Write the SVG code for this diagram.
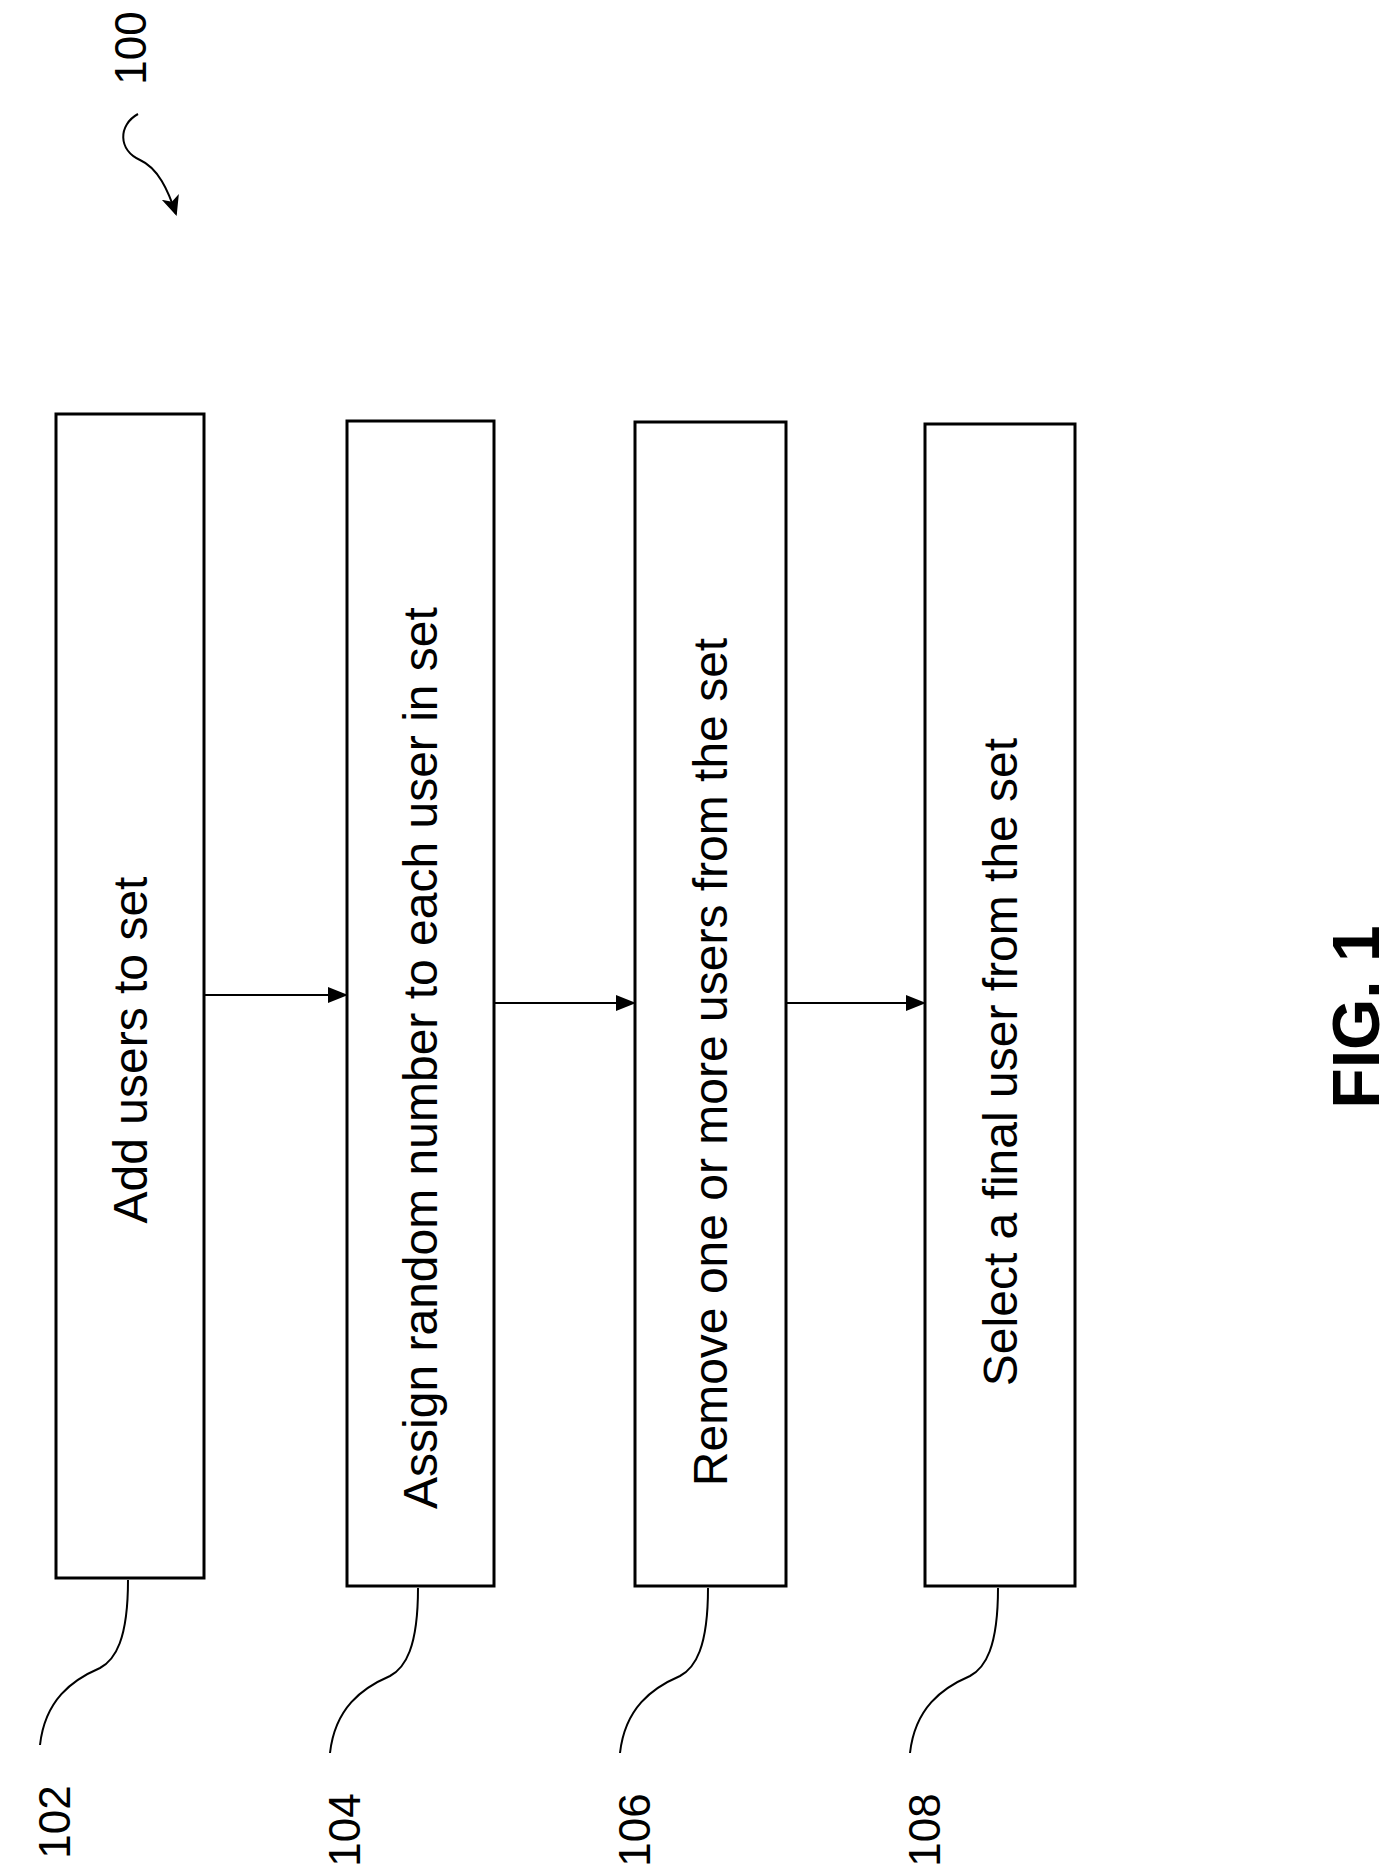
<svg xmlns="http://www.w3.org/2000/svg" width="1396" height="1876" viewBox="0 0 1396 1876">
<style>
.box{fill:#fff;stroke:#000;stroke-width:3}
.t{font-family:"Liberation Sans",Arial,sans-serif;font-size:48px;text-anchor:middle;dominant-baseline:central}
.ln{fill:none;stroke:#000;stroke-width:2}
</style>
<defs><marker id="ah" markerWidth="20" markerHeight="16" refX="19" refY="8" orient="auto" markerUnits="userSpaceOnUse" viewBox="0 0 20 16"><path d="M0,0 L20,8 L0,16 z" fill="#000"/></marker>
<marker id="ah2" markerWidth="22" markerHeight="22" refX="18" refY="11" orient="auto" markerUnits="userSpaceOnUse" viewBox="0 0 22 22"><path d="M0,2 L20,11 L0,20 L5,11 z" fill="#000"/></marker></defs>
<rect width="1396" height="1876" fill="#fff"/>
<g id="n102"><rect class="box" x="56" y="414" width="148" height="1164"/><text class="t" transform="rotate(-90 130 1050)" x="130" y="1050">Add users to set</text></g>
<g id="n104"><rect class="box" x="347" y="421" width="147" height="1165"/><text class="t" transform="rotate(-90 420 1058)" x="420" y="1058">Assign random number to each user in set</text></g>
<g id="n106"><rect class="box" x="635" y="422" width="151" height="1164"/><text class="t" transform="rotate(-90 710 1062)" x="710" y="1062">Remove one or more users from the set</text></g>
<g id="n108"><rect class="box" x="925" y="424" width="150" height="1162"/><text class="t" transform="rotate(-90 1000 1062)" x="1000" y="1062">Select a final user from the set</text></g>
<g id="connectors">
<line class="ln" x1="204" y1="995" x2="347" y2="995" marker-end="url(#ah)"/>
<line class="ln" x1="494" y1="1003" x2="635" y2="1003" marker-end="url(#ah)"/>
<line class="ln" x1="786" y1="1003" x2="925" y2="1003" marker-end="url(#ah)"/>
<path class="ln" d="M128 1580 C128 1640 115 1660 100 1668 C72 1680 45 1700 40 1745"/>
<path class="ln" d="M418 1588 C418 1648 405 1668 390 1676 C362 1688 335 1708 330 1753"/>
<path class="ln" d="M708 1588 C708 1648 695 1668 680 1676 C652 1688 625 1708 620 1753"/>
<path class="ln" d="M998 1588 C998 1648 985 1668 970 1676 C942 1688 915 1708 910 1753"/>
<path class="ln" d="M138 114 C118 125 118 150 140 160 C158 168 168 190 176 214" marker-end="url(#ah2)"/>
</g>
<g id="labels" font-family="Liberation Sans,Arial,sans-serif" font-size="44">
<text transform="rotate(-90 54 1822)" x="54" y="1822" text-anchor="middle" dominant-baseline="central">102</text>
<text transform="rotate(-90 344 1830)" x="344" y="1830" text-anchor="middle" dominant-baseline="central">104</text>
<text transform="rotate(-90 634 1830)" x="634" y="1830" text-anchor="middle" dominant-baseline="central">106</text>
<text transform="rotate(-90 924 1830)" x="924" y="1830" text-anchor="middle" dominant-baseline="central">108</text>
<text transform="rotate(-90 130 48)" x="130" y="48" text-anchor="middle" dominant-baseline="central">100</text>
<text transform="rotate(-90 1356 1017)" x="1356" y="1017" text-anchor="middle" dominant-baseline="central" font-size="66" font-weight="bold">FIG. 1</text>
</g>
</svg>
